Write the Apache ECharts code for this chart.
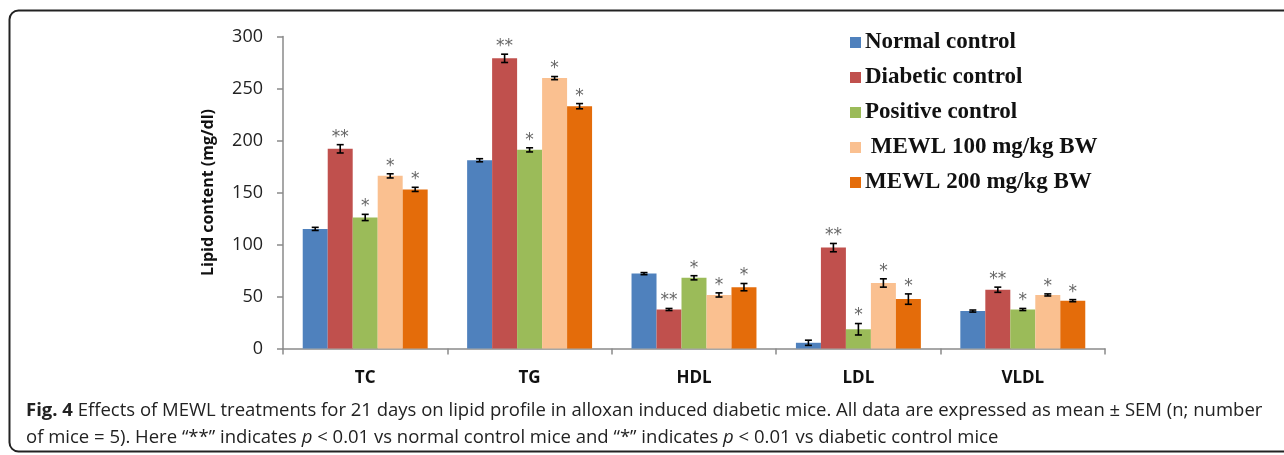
<!DOCTYPE html>
<html>
<head>
<meta charset="utf-8">
<script src="https://cdn.jsdelivr.net/npm/echarts@6/dist/echarts.min.js"></script>
<style>
html,body{margin:0;padding:0;background:#fff;}
#chart{width:1284px;height:455px;}
</style>
</head>
<body>
<div id="chart"></div>
<script>
const categories = ['TC', 'TG', 'HDL', 'LDL', 'VLDL'];
const seriesNames = ['Normal control', 'Diabetic control', 'Positive control', ' MEWL 100 mg/kg BW', 'MEWL 200 mg/kg BW'];

const normalControl   = [115, 181, 72, 5.5, 36];
const diabeticControl = [192, 279, 37.5, 97, 56.5];
const positiveControl = [126, 191, 68, 18.5, 37.5];
const mewl100         = [166, 260, 51.5, 63, 51.5];
const mewl200         = [153, 233, 59, 47.5, 46];

const normalErr   = [1.5, 1.5, 1, 2.5, 1];
const diabeticErr = [4, 4, 1, 4, 2.5];
const positiveErr = [3, 2, 2, 5.5, 1];
const mewl100Err  = [2, 1.5, 2, 4, 1];
const mewl200Err  = [2, 2.5, 3.5, 5, 1];

const normalSig   = ['', '', '', '', ''];
const diabeticSig = ['**', '**', '**', '**', '**'];
const positiveSig = ['*', '*', '*', '*', '*'];
const mewl100Sig  = ['*', '*', '*', '*', '*'];
const mewl200Sig  = ['*', '*', '*', '*', '*'];

const yTicks = [0, 50, 100, 150, 200, 250, 300];

const colors = ['#4F81BD', '#C0504D', '#9BBB59', '#FAC090', '#E46C0A'];
const values = [normalControl, diabeticControl, positiveControl, mewl100, mewl200];
const errors = [normalErr, diabeticErr, positiveErr, mewl100Err, mewl200Err];
const sigs = [normalSig, diabeticSig, positiveSig, mewl100Sig, mewl200Sig];

const GAP = 0.24;

const barSeries = seriesNames.map((name, i) => ({
  name: name,
  type: 'bar',
  data: values[i],
  barGap: '0%',
  barCategoryGap: (GAP * 100) + '%',
  itemStyle: { color: colors[i] },
  silent: true
}));

const errData = [];
values.forEach((arr, s) => {
  arr.forEach((v, c) => {
    errData.push([c, s, v, errors[s][c], sigs[s][c]]);
  });
});

const errSeries = {
  type: 'custom',
  name: 'err',
  data: errData,
  silent: true,
  z: 10,
  renderItem: function (params, api) {
    const c = api.value(0);
    const s = api.value(1);
    const v = api.value(2);
    const e = api.value(3);
    const sig = errData[params.dataIndex][4];
    const base = api.coord([c, 0]);
    const cw = api.size([1, 0])[0];
    const bw = cw * (1 - GAP) / 5;
    const x = base[0] + (s - 2) * bw;
    const yTop = api.coord([c, v + e])[1];
    const yBot = api.coord([c, v - e])[1];
    const hw = 3.5;
    const st = { stroke: '#000', lineWidth: 1.6 };
    const children = [
      { type: 'line', shape: { x1: x, y1: yTop, x2: x, y2: yBot }, style: st },
      { type: 'line', shape: { x1: x - hw, y1: yTop, x2: x + hw, y2: yTop }, style: st },
      { type: 'line', shape: { x1: x - hw, y1: yBot, x2: x + hw, y2: yBot }, style: st }
    ];
    if (sig) {
      children.push({
        type: 'text',
        style: {
          x: x, y: yTop + 1,
          text: sig,
          fill: '#666',
          font: '17px "DejaVu Sans"',
          textAlign: 'center',
          textVerticalAlign: 'bottom'
        }
      });
    }
    return { type: 'group', children: children };
  }
};

const chart = echarts.init(document.getElementById('chart'), null, { renderer: 'canvas' });
chart.setOption({
  animation: false,
  backgroundColor: '#fff',
  grid: { left: 283, right: 179, top: 36.5, bottom: 106.5, containLabel: false },
  legend: {
    data: seriesNames,
    orient: 'vertical',
    left: 845,
    top: 26,
    itemWidth: 11,
    itemHeight: 11,
    itemGap: 12,
    icon: 'rect',
    textStyle: {
      fontFamily: '"Liberation Serif", "DejaVu Serif", serif',
      fontWeight: 'bold',
      fontSize: 23,
      lineHeight: 21,
      color: '#111',
      padding: [0, 0, 0, -1]
    }
  },
  xAxis: {
    type: 'category',
    data: categories,
    axisLine: { lineStyle: { color: '#8a8a8a', width: 1.5 } },
    axisTick: { show: true, length: 6, alignWithLabel: false, lineStyle: { color: '#8a8a8a', width: 1.5 } },
    axisLabel: {
      margin: 21,
      fontFamily: '"Open Sans", sans-serif',
      fontWeight: 'bold',
      fontSize: 17,
      color: '#111'
    }
  },
  yAxis: {
    type: 'value',
    min: yTicks[0],
    max: yTicks[yTicks.length - 1],
    interval: yTicks[1] - yTicks[0],
    name: 'Lipid content (mg/dl)',
    nameLocation: 'middle',
    nameRotate: 90,
    nameGap: 67,
    nameTextStyle: {
      fontFamily: '"Open Sans", sans-serif',
      fontWeight: 'bold',
      fontSize: 16,
      color: '#111'
    },
    splitLine: { show: false },
    axisLine: { show: true, lineStyle: { color: '#8a8a8a', width: 1.5 } },
    axisTick: { show: true, length: 6, lineStyle: { color: '#8a8a8a', width: 1.5 } },
    axisLabel: {
      margin: 20,
      fontFamily: '"Open Sans", sans-serif',
      fontSize: 18,
      color: '#222'
    }
  },
  graphic: [
    {
      type: 'rect',
      shape: { x: 9.5, y: 10.5, width: 1320, height: 441, r: 9 },
      style: { fill: 'none', stroke: '#222', lineWidth: 2 },
      silent: true
    },
    {
      type: 'text',
      left: 26,
      top: 397,
      style: {
        text: '{b|Fig. 4} Effects of MEWL treatments for 21 days on lipid profile in alloxan induced diabetic mice. All data are expressed as mean ± SEM (n; number\nof mice = 5). Here \u201c**\u201d indicates {i|p} < 0.01 vs normal control mice and \u201c*\u201d indicates {i|p} < 0.01 vs diabetic control mice',
        font: '18.5px "Open Sans"',
        fill: '#222',
        lineHeight: 27,
        rich: {
          b: { fontWeight: 'bold', fontFamily: 'Open Sans', fontSize: 18.5, fill: '#222', lineHeight: 27 },
          i: { fontStyle: 'italic', fontFamily: 'Open Sans', fontSize: 18.5, fill: '#222', lineHeight: 27 }
        }
      }
    }
  ],
  series: barSeries.concat([errSeries])
});
</script>
</body>
</html>
